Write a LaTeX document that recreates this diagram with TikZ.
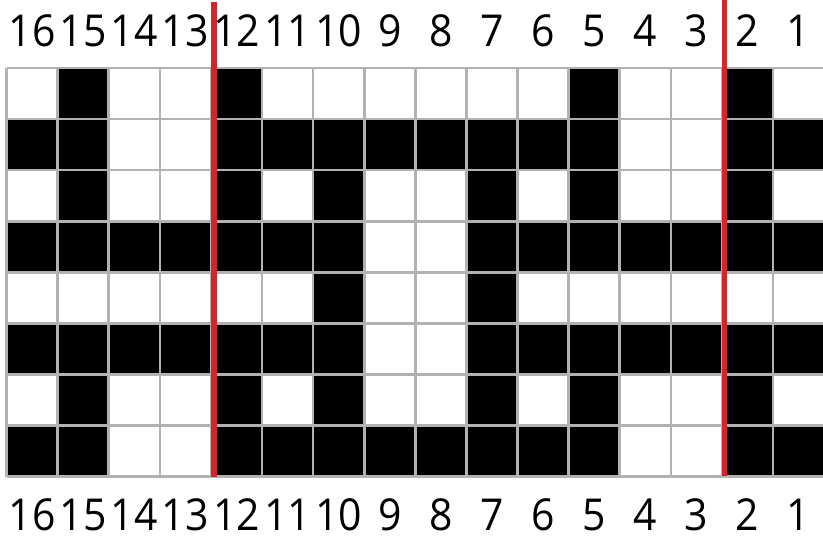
\documentclass[tikz,border=0pt]{standalone}
\usepackage{fontspec}
\setmainfont{Open Sans}
\definecolor{gridgray}{RGB}{178,178,178}
\definecolor{redline}{RGB}{212,36,44}
\begin{document}
\begin{tikzpicture}[x=1pt,y=-1pt,
  lbl/.style={font=\fontsize{44}{48}\selectfont, anchor=base, inner sep=0pt, text depth=0pt},
  cellfill/.style={fill=black},
  gridline/.style={draw=gridgray, line width=2.6pt},
  redbar/.style={draw=redline, line width=5.5pt}]
\useasboundingbox[fill=white] (0,0) rectangle (823,537);
\def\X{6.5}\def\Y{68}\def\S{51.1}
% black cells
\foreach \row [count=\r from 0] in {
  {0,1,0,0,1,0,0,0,0,0,0,1,0,0,1,0},
  {1,1,0,0,1,1,1,1,1,1,1,1,0,0,1,1},
  {0,1,0,0,1,0,1,0,0,1,0,1,0,0,1,0},
  {1,1,1,1,1,1,1,0,0,1,1,1,1,1,1,1},
  {0,0,0,0,0,0,1,0,0,1,0,0,0,0,0,0},
  {1,1,1,1,1,1,1,0,0,1,1,1,1,1,1,1},
  {0,1,0,0,1,0,1,0,0,1,0,1,0,0,1,0},
  {1,1,0,0,1,1,1,1,1,1,1,1,0,0,1,1}}{
  \foreach \v [count=\c from 0] in \row {
    \ifnum\v=1
      \fill[cellfill] ({\X+\S*\c},{\Y+\S*\r}) rectangle ({\X+\S*(\c+1)},{\Y+\S*(\r+1)});
    \fi
  }
}
% grid
\foreach \i in {0,...,16}{
  \draw[gridline] ({\X+\S*\i},\Y) -- ({\X+\S*\i},{\Y+8*\S});
}
\foreach \j in {0,...,8}{
  \draw[gridline] (\X,{\Y+\S*\j}) -- ({\X+16*\S},{\Y+\S*\j});
}
% labels
\foreach \i in {0,...,15}{
  \pgfmathtruncatemacro{\n}{16-\i}
  \node[lbl] (top\n) at ({\X+\S*(\i+0.5)},47) {\scalebox{0.93}[1]{\n}};
  \node[lbl] (bot\n) at ({\X+\S*(\i+0.5)},530) {\scalebox{0.93}[1]{\n}};
}
% red lines
\coordinate (ra) at (214,2);
\coordinate (rb) at (214,477);
\coordinate (rc) at (724.5,0);
\coordinate (rd) at (724.5,476);
\draw[redbar] (ra) -- (rb);
\draw[redbar] (rc) -- (rd);
\end{tikzpicture}
\end{document}
